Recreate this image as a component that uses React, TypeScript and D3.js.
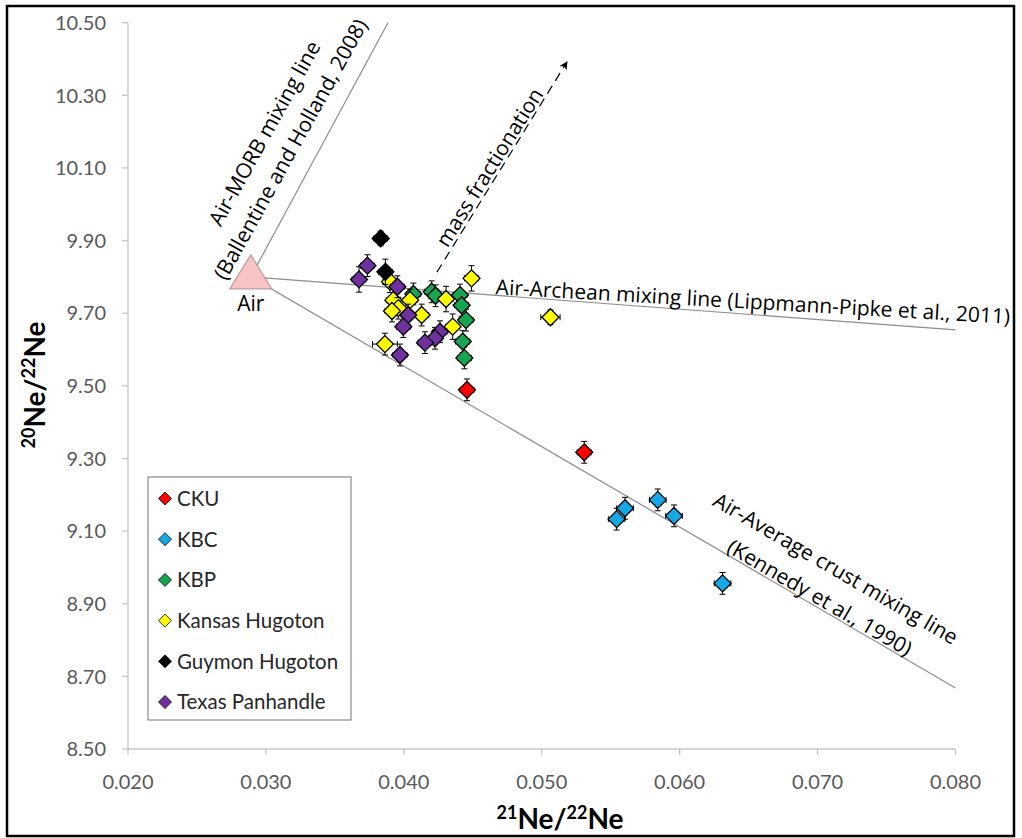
import React from "react";
import * as d3 from "d3";

type Pt = [number, number, number, number]; // x, y, errX, errY

const xTicks = [0.02, 0.03, 0.04, 0.05, 0.06, 0.07, 0.08];
const yTicks = [8.5, 8.7, 8.9, 9.1, 9.3, 9.5, 9.7, 9.9, 10.1, 10.3, 10.5];

const ckuData: Pt[] = [
  [0.04458, 9.489, 0.0005, 0.03],
  [0.05308, 9.317, 0.0005, 0.03],
];
const kbcData: Pt[] = [
  [0.05543, 9.133, 0.0006, 0.03],
  [0.05604, 9.163, 0.0006, 0.03],
  [0.05841, 9.186, 0.0006, 0.03],
  [0.05959, 9.142, 0.0006, 0.03],
  [0.06311, 8.956, 0.0006, 0.03],
];
const kbpData: Pt[] = [
  [0.04069, 9.753, 0.0005, 0.03],
  [0.04202, 9.759, 0.0005, 0.03],
  [0.0423, 9.748, 0.0005, 0.03],
  [0.04407, 9.75, 0.0005, 0.03],
  [0.04419, 9.722, 0.0005, 0.03],
  [0.04451, 9.681, 0.0005, 0.03],
  [0.04427, 9.622, 0.0005, 0.03],
  [0.04439, 9.577, 0.0005, 0.03],
];
const kansasData: Pt[] = [
  [0.039, 9.787, 0.0005, 0.03],
  [0.03924, 9.736, 0.0005, 0.03],
  [0.04045, 9.736, 0.0005, 0.03],
  [0.0396, 9.714, 0.0005, 0.03],
  [0.03914, 9.706, 0.0005, 0.03],
  [0.04129, 9.695, 0.0005, 0.03],
  [0.04306, 9.739, 0.0005, 0.035],
  [0.04354, 9.663, 0.0005, 0.035],
  [0.03863, 9.615, 0.0009, 0.03],
  [0.04491, 9.796, 0.0005, 0.035],
  [0.05063, 9.689, 0.0007, 0.02],
];
const guymonData: Pt[] = [
  [0.03832, 9.906, 0.0005, 0.02],
  [0.03866, 9.814, 0.0005, 0.035],
];
const texasData: Pt[] = [
  [0.03675, 9.793, 0.0005, 0.035],
  [0.03736, 9.831, 0.0005, 0.03],
  [0.03953, 9.773, 0.0005, 0.03],
  [0.04032, 9.695, 0.0005, 0.03],
  [0.03996, 9.663, 0.0005, 0.03],
  [0.04262, 9.649, 0.0005, 0.03],
  [0.04226, 9.631, 0.0005, 0.03],
  [0.04153, 9.619, 0.0005, 0.03],
  [0.03972, 9.585, 0.0005, 0.03],
];

const seriesNames = ["CKU", "KBC", "KBP", "Kansas Hugoton", "Guymon Hugoton", "Texas Panhandle"];
const seriesColors = ["#ff0000", "#14a8e6", "#16a550", "#ffff00", "#000000", "#7030a0"];
const seriesData = [ckuData, kbcData, kbpData, kansasData, guymonData, texasData];

const airPoint = [0.0289, 9.8];
const morbEnd = [0.03885, 10.5];
const archeanEnd = [0.08, 9.654];
const crustEnd = [0.08, 8.668];
const fracStart = [0.0424, 9.813];
const fracEnd = [0.05183, 10.392];

const x = d3.scaleLinear().domain([0.02, 0.08]).range([128, 955.5]);
const y = d3.scaleLinear().domain([8.5, 10.5]).range([749, 22.7]);

const FONT = "Lato, sans-serif";
const ANN = "Open Sans";
const LINE = "#8c8c8c";

function Diamond({ cx, cy, r, fill, sw = 1.3 }: { cx: number; cy: number; r: number; fill: string; sw?: number }) {
  const p = `M${cx},${cy - r}L${cx + r},${cy}L${cx},${cy + r}L${cx - r},${cy}Z`;
  return <path d={p} fill={fill} stroke="#000" strokeWidth={sw} />;
}

function Ann({ t, cx, cy, rot, children }: { t?: string; cx: number; cy: number; rot: number; children: React.ReactNode }) {
  return (
    <text
      transform={`translate(${cx},${cy}) rotate(${rot})`}
      textAnchor="middle"
      dominantBaseline="central"
      style={{ fontFamily: ANN, fontSize: "21px" }}
      fill="#000"
    >
      {children}
    </text>
  );
}

export default function App() {
  const ax = x(airPoint[0]);
  const ay = y(airPoint[1]);
  const cap = 3;
  return (
    <svg width={1022} height={838} style={{ position: "absolute", left: 0, top: 0, background: "#fff" }} fontFamily={FONT}>
      <rect x={0} y={0} width={1022} height={838} fill="#fff" />
      <rect x={7} y={6} width={1007} height={830} fill="none" stroke="#000" strokeWidth={2.5} />

      {/* axes */}
      <line x1={x(0.02)} x2={x(0.08)} y1={y(8.5)} y2={y(8.5)} stroke="#c6c6c6" strokeWidth={1.3} />
      <line x1={x(0.02)} x2={x(0.02)} y1={y(8.5)} y2={y(10.5)} stroke="#c6c6c6" strokeWidth={1.3} />
      {xTicks.map((t) => (
        <g key={"xt" + t}>
          <line x1={x(t)} x2={x(t)} y1={y(8.5)} y2={y(8.5) + 6} stroke="#c6c6c6" strokeWidth={1.3} />
          <text x={x(t)} y={789} textAnchor="middle" fontSize={20} fill="#595959">
            {t.toFixed(3)}
          </text>
        </g>
      ))}
      {yTicks.map((t) => (
        <g key={"yt" + t}>
          <line x1={x(0.02) - 6} x2={x(0.02)} y1={y(t)} y2={y(t)} stroke="#c6c6c6" strokeWidth={1.3} />
          <text x={106} y={y(t)} dy="0.36em" textAnchor="end" fontSize={20} fill="#595959">
            {t.toFixed(2)}
          </text>
        </g>
      ))}

      {/* axis titles */}
      <text x={560} y={829} textAnchor="middle" fontSize={28} fontWeight="bold" fill="#000">
        <tspan fontSize={18} dy={-10}>21</tspan>
        <tspan dy={10}>Ne/</tspan>
        <tspan fontSize={18} dy={-10}>22</tspan>
        <tspan dy={10}>Ne</tspan>
      </text>
      <text transform={`translate(45,385) rotate(-90)`} textAnchor="middle" fontSize={28} fontWeight="bold" fill="#000">
        <tspan fontSize={18} dy={-10}>20</tspan>
        <tspan dy={10}>Ne/</tspan>
        <tspan fontSize={18} dy={-10}>22</tspan>
        <tspan dy={10}>Ne</tspan>
      </text>

      {/* mixing lines */}
      <line x1={ax} y1={ay} x2={x(morbEnd[0])} y2={y(morbEnd[1])} stroke={LINE} strokeWidth={1.2} />
      <line x1={ax} y1={ay} x2={x(archeanEnd[0])} y2={y(archeanEnd[1])} stroke={LINE} strokeWidth={1.2} />
      <line x1={ax} y1={ay} x2={x(crustEnd[0])} y2={y(crustEnd[1])} stroke={LINE} strokeWidth={1.2} />

      {/* mass fractionation arrow */}
      <defs>
        <marker id="arr" viewBox="0 0 10 10" refX={9} refY={5} markerWidth={7} markerHeight={7} orient="auto">
          <path d="M0,0L10,5L0,10L3,5Z" fill="#000" />
        </marker>
      </defs>
      <line
        x1={x(fracStart[0])}
        y1={y(fracStart[1])}
        x2={x(fracEnd[0])}
        y2={y(fracEnd[1])}
        stroke="#000"
        strokeWidth={1.2}
        strokeDasharray="9,6"
        markerEnd="url(#arr)"
      />

      {/* annotations */}
      <Ann cx={264} cy={133} rot={-61}>Air-MORB mixing line</Ann>
      <Ann cx={290} cy={149} rot={-61}>(Ballentine and Holland, 2008)</Ann>
      <Ann cx={489} cy={167} rot={-58}>mass fractionation</Ann>
      <Ann cx={753} cy={301} rot={3.3}>Air-Archean mixing line (Lippmann-Pipke et al., 2011)</Ann>
      <Ann cx={836} cy={568} rot={30.2}>Air-Average crust mixing line</Ann>
      <Ann cx={820} cy={597} rot={30.2}>(Kennedy et al., 1990)</Ann>

      {/* Air triangle */}
      <path
        d={`M${ax},${ay - 22}L${ax + 21},${ay + 12}L${ax - 21},${ay + 12}Z`}
        fill="#f7c4c4"
        stroke="#c09a9a"
        strokeWidth={1.2}
      />
      <Ann cx={ax} cy={303} rot={0}>Air</Ann>

      {/* data */}
      {seriesData.map((data, si) => (
        <g key={"s" + si}>
          {data.map((d, i) => {
            const px = x(d[0]);
            const py = y(d[1]);
            const x0 = x(d[0] - d[2]);
            const x1 = x(d[0] + d[2]);
            const y0 = y(d[1] + d[3]);
            const y1 = y(d[1] - d[3]);
            return (
              <g key={"e" + i} stroke="#000" strokeWidth={1}>
                <line x1={x0} x2={x1} y1={py} y2={py} />
                <line x1={x0} x2={x0} y1={py - cap} y2={py + cap} />
                <line x1={x1} x2={x1} y1={py - cap} y2={py + cap} />
                <line x1={px} x2={px} y1={y0} y2={y1} />
                <line x1={px - cap} x2={px + cap} y1={y0} y2={y0} />
                <line x1={px - cap} x2={px + cap} y1={y1} y2={y1} />
              </g>
            );
          })}
          {data.map((d, i) => (
            <Diamond key={"m" + i} cx={x(d[0])} cy={y(d[1])} r={8.5} fill={seriesColors[si]} />
          ))}
        </g>
      ))}

      {/* legend */}
      <rect x={148} y={477} width={203} height={243} fill="#fff" stroke="#8a8a8a" strokeWidth={1.2} />
      {seriesNames.map((n, i) => (
        <g key={"l" + i}>
          <Diamond cx={165} cy={498.5 + i * 40.7} r={6.5} fill={seriesColors[i]} sw={0.8} />
          <text x={177} y={498.5 + i * 40.7} dy="0.36em" fontSize={20.5} fill="#262626">
            {n}
          </text>
        </g>
      ))}
    </svg>
  );
}
